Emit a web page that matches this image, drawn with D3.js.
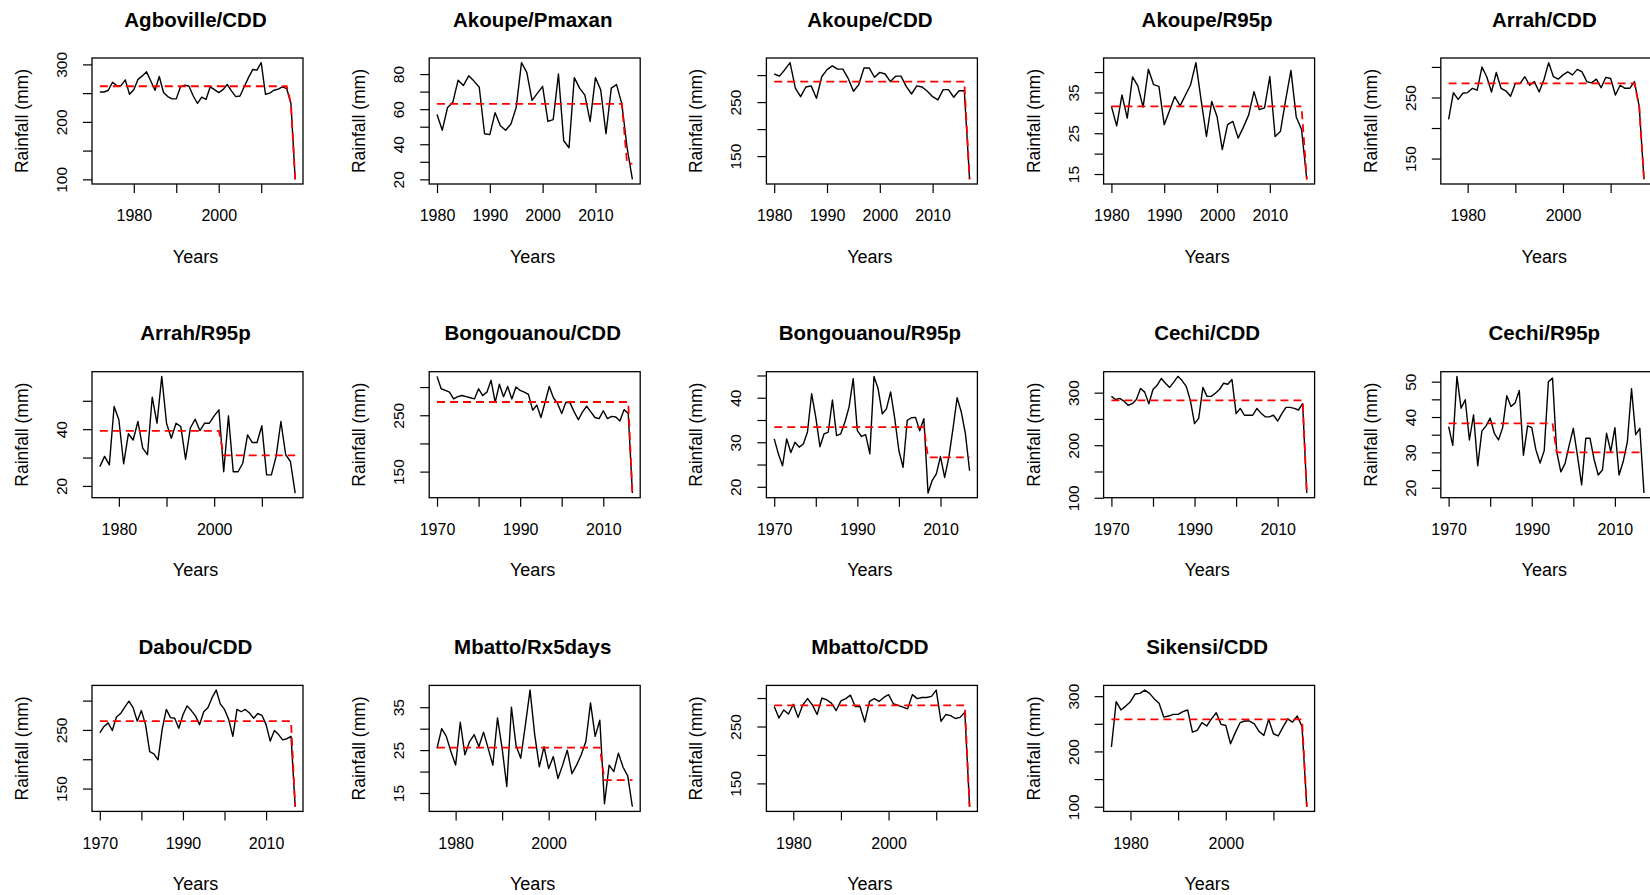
<!DOCTYPE html>
<html>
<head>
<meta charset="utf-8">
<script src="https://cdn.jsdelivr.net/npm/d3@7"></script>
<style>
  html, body { margin: 0; padding: 0; background: #fff; overflow: hidden; }
  svg { display: block; }
  text { font-family: "Liberation Sans", Arial, sans-serif; fill: #000; }
</style>
</head>
<body>
<svg id="chart" width="1650" height="895"></svg>
<script>
// Panel titles (station / index)
const titles = [
  "Agboville/CDD", "Akoupe/Pmaxan", "Akoupe/CDD", "Akoupe/R95p", "Arrah/CDD",
  "Arrah/R95p", "Bongouanou/CDD", "Bongouanou/R95p", "Cechi/CDD", "Cechi/R95p",
  "Dabou/CDD", "Mbatto/Rx5days", "Mbatto/CDD", "Sikensi/CDD"
];

// First year of each annual series
const startYears = [1972, 1980, 1980, 1980, 1976, 1976, 1970, 1970, 1970, 1970, 1970, 1976, 1976, 1976];

// Annual values (mm)
const agbovilleCdd = [252,252,255,269,263,263,273,248,256,274, 280,287,271,255,279,251,244,240,240,261,
  264,262,245,232,243,239,261,256,251,256, 265,254,244,245,261,277,291,290,303,248, 250,255,257,261,258,232,100];
const akoupePmaxan = [57,48,61,64,76.5,73.5,79,76,72.5,46, 45.5,58,50.5,48,51.5,61,86.5,81,65,69,
  73,53,54,80,42,38,78,72,68,53, 78,71,46,72,74,63,38,20];
const akoupeCdd = [302,298,310,323,276,260,278,280,257,297, 310,317,311,311,294,270,282,313,313,296,
  305,302,288,298,298,279,265,280,278,270, 260,254,273,273,259,271,271,107];
const akoupeR95p = [31.6,26.8,34.4,28.7,38.8,36.6,31.4,40.7,36.9,36.5, 27.1,30.5,34,31.7,34.3,36.9,42.3,33,24.2,32.8,
  29.1,21,27.1,27.9,23.8,26.5,29.5,35.2,30.8,31.2, 38.9,24.2,25.4,33.2,40.4,29,26,13.7];
const arrahCdd = [214,258,247,257,258,265,262,300,284,259, 291,265,261,252,273,273,284,270,276,259,
  279,307,284,280,287,292,287,296,292,276, 274,280,266,283,281,254,270,265,265,276, 235,116];
const arrahR95p = [26.8,30.4,27.4,48,43.3,27.8,38.4,36.2,42.7,33.3, 31,51.3,42.1,58.6,42.1,36.8,42.1,40.9,29.4,40.4,
  43.5,39.5,42.1,42.1,44.7,46.8,25,44.7,25,25, 28,38,35.3,35.3,41.2,23.9,23.9,30.4,42.7,31, 28.6,17.5];
const bongouanouCdd = [319,297,294,291,279,283,285,283,281,279, 297,285,291,312,273,305,283,301,279,300,
  294,291,287,259,268,246,273,301,281,271, 253,273,272,256,242,256,266,256,246,244, 258,244,248,247,240,260,253,112];
const bongouanouR95p = [30.75,27.4,24.7,30.75,27.7,30,28.9,29.6,32.3,40.9, 35.6,29,31.9,32.3,39.5,31.5,31.9,34.5,37.9,44.3,
  32.6,31.3,31.7,27.4,44.8,42,36.4,37.5,41.3,35.3, 28.1,24.4,34.9,35.5,35.6,32.6,35.3,18.6,21.4,22.9, 26.8,22.1,26.6,33,40,36.8,31.9,23.6];
const cechiCdd = [293,287,289,284,276,279,287,308,301,279, 306,314,327,318,310,320,331,323,312,285,
  241,251,310,293,293,299,306,318,316,325, 260,270,257,257,257,270,261,254,254,257, 246,260,272,272,270,267,279,109];
const cechiR95p = [37.3,32,51.5,42.5,44.9,33.5,40.6,26.2,36,37.5, 39.7,35.4,33.5,37,46,43,44,47.5,29.2,37.5,
  37,30.7,27,30.5,50,51,30.2,24.5,26.8,32, 36.8,29,20.8,34,34,28,23.6,25,35.4,30.2, 37,23.6,27.4,33,48,35,36.8,18.5];
const dabouCdd = [245,256,262,249,272,278,289,299,288,265, 283,259,213,209,199,251,285,271,270,253,
  276,291,283,274,259,281,288,305,318,294, 285,268,239,285,281,285,279,270,278,275, 259,231,249,242,233,235,239,119];
const mbattoRx5days = [25.4,30,28.2,24.6,21.5,31.5,23.9,27,28.6,25.8, 29.2,25.4,21.5,32.5,25.4,16.5,35,26,23.1,30.9,
  39,28.6,21.1,25.8,20.7,23.5,18.4,21.5,25,19.5, 21.5,23.9,27,36,28.2,32,12.5,21.5,20,24.3, 21,19,11.8];
const mbattoCdd = [285,265,279,272,289,266,288,299,288,271, 300,297,291,278,295,299,305,285,285,258,
  294,299,294,301,306,290,287,284,281,306, 299,301,301,303,314,259,271,269,264,266, 275,109];
const sikensiCdd = [208,290,275,282,290,304,305,311,305,295, 287,262,264,267,267,272,275,235,238,252,
  246,259,270,249,247,214,234,252,255,255, 250,236,229,258,232,228,244,259,253,264, 245,100];

const seriesValues = [agbovilleCdd, akoupePmaxan, akoupeCdd, akoupeR95p, arrahCdd, arrahR95p,
  bongouanouCdd, bongouanouR95p, cechiCdd, cechiR95p, dabouCdd, mbattoRx5days, mbattoCdd, sikensiCdd];

// Segment means [fromYear, toYear, mean]; years outside a segment keep their own value
const meanSegments = [
  [[1972, 2016, 262]],
  [[1980, 2015, 63], [2016, 2017, 29]],
  [[1980, 2016, 288]],
  [[1980, 2016, 31.6]],
  [[1976, 2015, 273]],
  [[1976, 2001, 39.4], [2002, 2017, 30.8]],
  [[1970, 2016, 273.5]],
  [[1970, 2006, 33.4], [2007, 2017, 26.6]],
  [[1970, 2016, 285.4]],
  [[1970, 1995, 38.2], [1996, 2017, 30]],
  [[1970, 2016, 265]],
  [[1976, 2011, 25.6], [2012, 2018, 18]],
  [[1976, 2016, 287]],
  [[1976, 2016, 258]]
];

// Axis ticks and the subset that carries a label
const xTickValues = [
  [1980,1990,2000,2010], [1980,1990,2000,2010], [1980,1990,2000,2010], [1980,1990,2000,2010], [1980,1990,2000,2010],
  [1980,1990,2000,2010], [1970,1980,1990,2000,2010], [1970,1980,1990,2000,2010], [1970,1980,1990,2000,2010], [1970,1980,1990,2000,2010],
  [1970,1980,1990,2000,2010], [1980,1990,2000,2010], [1980,1990,2000,2010], [1980,1990,2000,2010]
];
const xTickLabels = [
  [1980,2000], [1980,1990,2000,2010], [1980,1990,2000,2010], [1980,1990,2000,2010], [1980,2000],
  [1980,2000], [1970,1990,2010], [1970,1990,2010], [1970,1990,2010], [1970,1990,2010],
  [1970,1990,2010], [1980,2000], [1980,2000], [1980,2000]
];
const yTickValues = [
  [100,150,200,250,300], [20,30,40,50,60,70,80], [150,200,250,300], [15,20,25,30,35,40], [150,200,250,300],
  [20,30,40,50], [150,200,250,300], [20,25,30,35,40,45], [100,150,200,250,300], [20,25,30,35,40,45,50],
  [150,200,250,300], [15,20,25,30,35], [150,200,250,300], [100,150,200,250,300]
];
const yTickLabels = [
  [100,200,300], [20,40,60,80], [150,250], [15,25,35], [150,250],
  [20,40], [150,250], [20,30,40], [100,200,300], [20,30,40,50],
  [150,250], [15,25,35], [150,250], [100,200,300]
];

// Grid layout of the small multiples
const COLS = 5, CELL_W = 337.2, CELL_H = 313.7;
const BOX_L = 92, BOX_T = 58, BOX_W = 211, BOX_H = 126, TICK = 9;

const svg = d3.select("#chart");

// R-style axis range: data extent widened by 4% on each side
function padded([lo, hi]) {
  const r = hi - lo;
  return [lo - 0.04 * r, hi + 0.04 * r];
}

titles.forEach((title, i) => {
  const col = i % COLS, row = Math.floor(i / COLS);
  const x0 = BOX_L + col * CELL_W, y0 = BOX_T + row * CELL_H;
  const values = seriesValues[i];
  const segs = meanSegments[i];

  const pts = values.map((v, k) => {
    const year = startYears[i] + k;
    const seg = segs.find(s => year >= s[0] && year <= s[1]);
    return { year, v, m: seg ? seg[2] : v };
  });

  const x = d3.scaleLinear()
    .domain(padded(d3.extent(pts, d => d.year)))
    .range([x0, x0 + BOX_W]);
  const y = d3.scaleLinear()
    .domain(padded([d3.min(pts, d => Math.min(d.v, d.m)), d3.max(pts, d => Math.max(d.v, d.m))]))
    .range([y0 + BOX_H, y0]);

  const g = svg.append("g");

  // annual series
  g.append("path")
    .datum(pts)
    .attr("fill", "none")
    .attr("stroke", "#000")
    .attr("stroke-width", 1.4)
    .attr("stroke-linejoin", "round")
    .attr("d", d3.line().x(d => x(d.year)).y(d => y(d.v)));

  // segment means
  g.append("path")
    .datum(pts)
    .attr("fill", "none")
    .attr("stroke", "#ff0000")
    .attr("stroke-width", 1.8)
    .attr("stroke-dasharray", "8,5")
    .attr("d", d3.line().x(d => x(d.year)).y(d => y(d.m)));

  // frame
  g.append("rect")
    .attr("x", x0).attr("y", y0)
    .attr("width", BOX_W).attr("height", BOX_H)
    .attr("fill", "none")
    .attr("stroke", "#000")
    .attr("stroke-width", 1.3);

  // x axis
  const xa = g.append("g")
    .attr("transform", `translate(0,${y0 + BOX_H})`)
    .call(d3.axisBottom(x)
      .tickValues(xTickValues[i])
      .tickSize(TICK)
      .tickPadding(17)
      .tickFormat(d => xTickLabels[i].includes(d) ? String(d) : ""));
  xa.select(".domain").remove();
  xa.selectAll(".tick line").attr("stroke", "#000").attr("stroke-width", 1.2);
  xa.selectAll(".tick text").style("font-size", "16px").attr("fill", "#000");

  // y axis, labels parallel to the axis
  const ya = g.append("g")
    .attr("transform", `translate(${x0},0)`)
    .call(d3.axisLeft(y)
      .tickValues(yTickValues[i])
      .tickSize(TICK)
      .tickFormat(d => yTickLabels[i].includes(d) ? String(d) : ""));
  ya.select(".domain").remove();
  ya.selectAll(".tick line").attr("stroke", "#000").attr("stroke-width", 1.2);
  ya.selectAll(".tick text")
    .attr("x", null).attr("dy", null)
    .attr("text-anchor", "middle")
    .attr("transform", "translate(-25,0) rotate(-90)")
    .attr("fill", "#000")
    .style("font-size", "15.5px");

  // title and axis titles
  g.append("text")
    .attr("x", x0 + BOX_W / 2 - 2)
    .attr("y", y0 - 31.5)
    .attr("text-anchor", "middle")
    .style("font-size", "20.5px")
    .style("font-weight", "bold")
    .text(title);

  g.append("text")
    .attr("x", x0 + BOX_W / 2 - 2)
    .attr("y", y0 + BOX_H + 78.5)
    .attr("text-anchor", "middle")
    .style("font-size", "18px")
    .text("Years");

  g.append("text")
    .attr("transform", `translate(${x0 - 64},${y0 + BOX_H / 2}) rotate(-90)`)
    .attr("text-anchor", "middle")
    .style("font-size", "17.5px")
    .text("Rainfall (mm)");
});
</script>
</body>
</html>
